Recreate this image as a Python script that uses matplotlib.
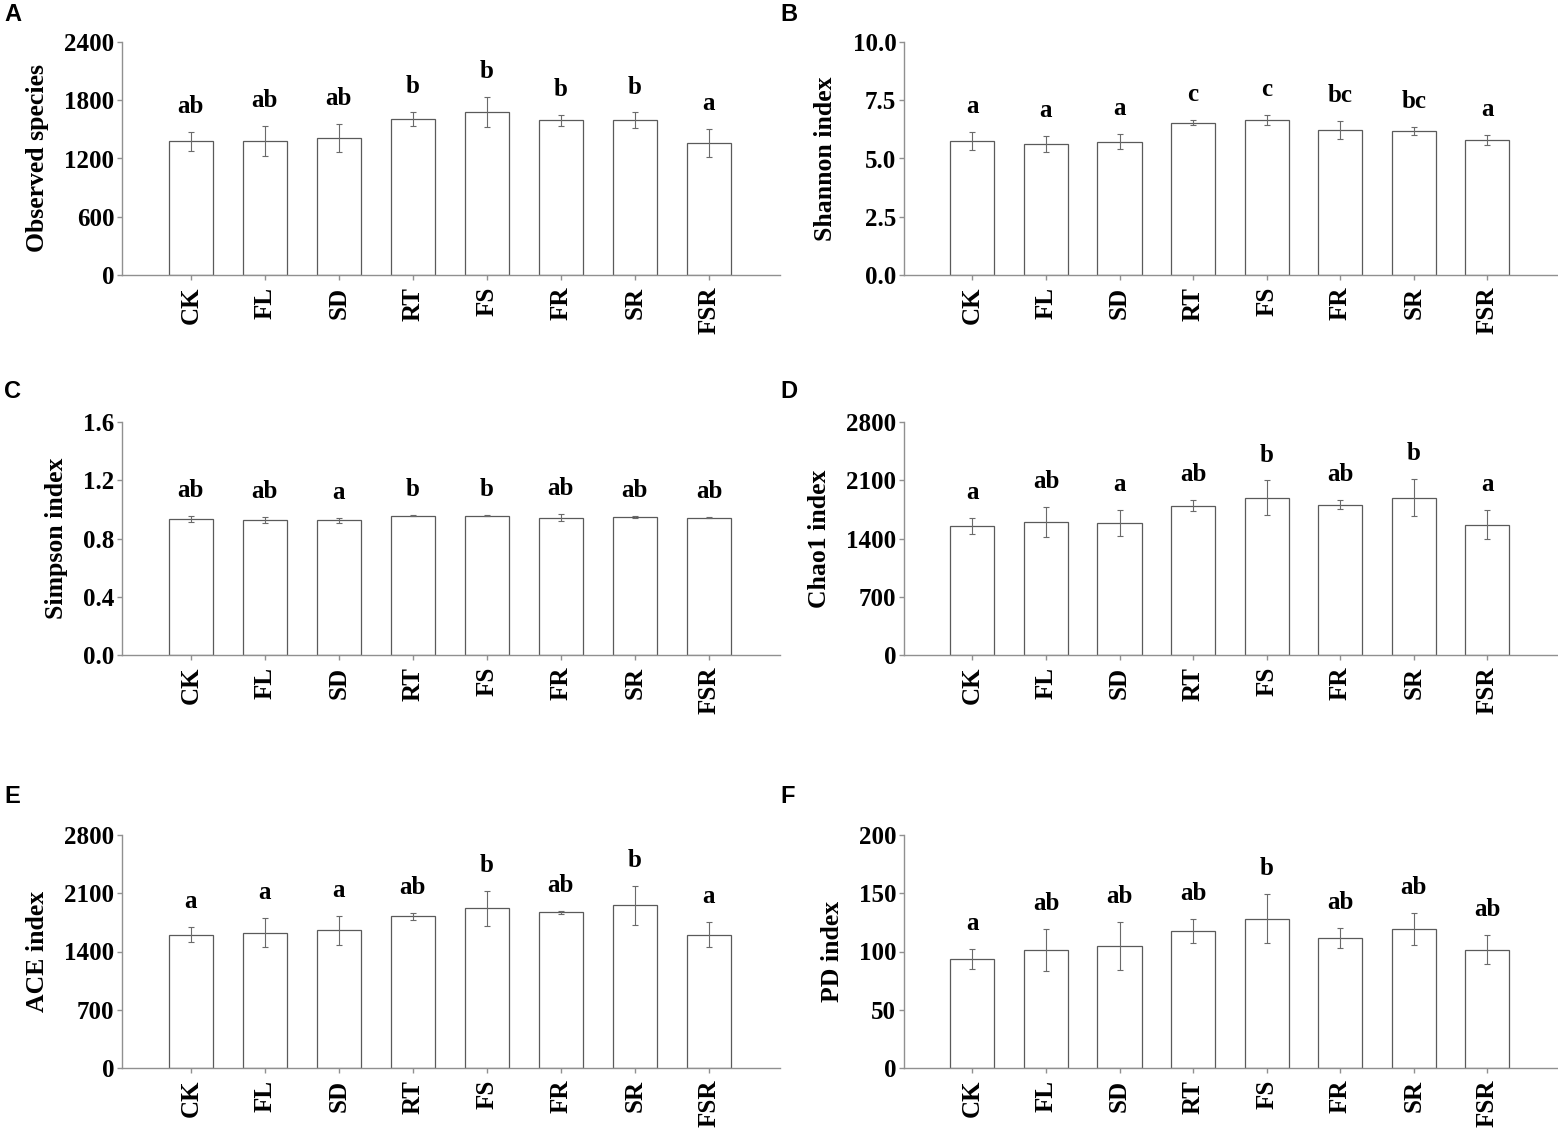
#!/usr/bin/env python3

import numpy as np
import matplotlib
matplotlib.use('Agg')
import matplotlib.pyplot as plt

# treatments
groups = ['CK', 'FL', 'SD', 'RT', 'FS', 'FR', 'SR', 'FSR']

# A - observed species
obs_mean = [1378, 1382, 1413, 1608, 1681, 1595, 1595, 1361]
obs_err = [98, 155, 146, 69, 156, 58, 79, 141]
obs_sig = ['ab', 'ab', 'ab', 'b', 'b', 'b', 'b', 'a']

# B - shannon
shan_mean = [5.76, 5.63, 5.72, 6.53, 6.66, 6.23, 6.19, 5.79]
shan_err = [0.39, 0.34, 0.32, 0.11, 0.21, 0.39, 0.16, 0.20]
shan_sig = ['a', 'a', 'a', 'c', 'c', 'bc', 'bc', 'a']

# C - simpson
simp_mean = [0.934, 0.927, 0.925, 0.957, 0.957, 0.943, 0.950, 0.943]
simp_err = [0.023, 0.018, 0.018, 0.002, 0.004, 0.024, 0.006, 0.003]
simp_sig = ['ab', 'ab', 'a', 'b', 'b', 'ab', 'ab', 'ab']

# D - chao1
chao_mean = [1554, 1602, 1590, 1795, 1891, 1807, 1891, 1566]
chao_err = [96, 180, 156, 62, 206, 58, 224, 172]
chao_sig = ['a', 'ab', 'a', 'ab', 'b', 'ab', 'b', 'a']

# E - ACE
ace_mean = [1604, 1628, 1653, 1821, 1921, 1869, 1953, 1604]
ace_err = [90, 174, 172, 46, 210, 18, 229, 155]
ace_sig = ['a', 'a', 'a', 'ab', 'b', 'ab', 'b', 'a']

# F - PD
pd_mean = [93.6, 101.3, 104.7, 117.6, 128.0, 111.6, 119.3, 101.6]
pd_err = [8.2, 18.0, 20.5, 10.3, 21.0, 8.3, 13.6, 12.4]
pd_sig = ['a', 'ab', 'ab', 'ab', 'b', 'ab', 'ab', 'ab']

W, H = 1558, 1129
SERIF = 'Liberation Serif'


def rect(x0, x1, top, bottom):
    return [x0 / W, 1 - bottom / H, (x1 - x0) / W, (bottom - top) / H]


def bar_panel(ax, mean, err, sig, ymax, step, ylabel, fmt):
    x = np.arange(len(groups))
    ax.bar(x, mean, width=0.6, color='white', edgecolor='#5a5a5a', linewidth=0.9, zorder=2)
    ax.errorbar(x, mean, yerr=err, fmt='none', ecolor='#6a6a6a', elinewidth=0.8,
                capsize=2.5, capthick=0.8, zorder=3)
    for xi, m, e, s in zip(x, mean, err, sig):
        ax.text(xi, m + e + 0.06 * ymax, s, ha='center', va='bottom',
                fontsize=18, fontweight='bold', family=SERIF)

    ax.set_xlim(-0.93, 7.96)
    ax.set_ylim(0, ymax)
    ticks = np.arange(0, ymax + step / 2, step)
    ax.set_yticks(ticks)
    ax.set_yticklabels([fmt.format(t) for t in ticks], fontsize=18, fontweight='bold', family=SERIF)
    ax.set_xticks(x)
    ax.set_xticklabels(groups, rotation=90, fontsize=18, fontweight='bold', family=SERIF)
    ax.set_ylabel(ylabel, fontsize=18.5, fontweight='bold', family=SERIF, labelpad=11)

    for side in ['top', 'right']:
        ax.spines[side].set_visible(False)
    for side in ['left', 'bottom']:
        ax.spines[side].set_color('#909090')
        ax.spines[side].set_linewidth(1.0)
    ax.tick_params(axis='both', color='#909090', length=3.5, width=1.0, pad=2)
    ax.tick_params(axis='x', pad=5)


fig = plt.figure(figsize=(W / 100, H / 100), dpi=100)

panels = [
    ('A', rect(122, 780, 42, 275), obs_mean, obs_err, obs_sig, 2400, 600, 'Observed species', '{:.0f}'),
    ('B', rect(904, 1558, 42, 275), shan_mean, shan_err, shan_sig, 10.0, 2.5, 'Shannon index', '{:.1f}'),
    ('C', rect(122, 780, 422, 655), simp_mean, simp_err, simp_sig, 1.6, 0.4, 'Simpson index', '{:.1f}'),
    ('D', rect(904, 1558, 422, 655), chao_mean, chao_err, chao_sig, 2800, 700, 'Chao1 index', '{:.0f}'),
    ('E', rect(122, 780, 835, 1068), ace_mean, ace_err, ace_sig, 2800, 700, 'ACE index', '{:.0f}'),
    ('F', rect(904, 1558, 835, 1068), pd_mean, pd_err, pd_sig, 200, 50, 'PD index', '{:.0f}'),
]

letter_pos = {'A': (4, 3), 'B': (780, 3), 'C': (4, 380), 'D': (780, 380), 'E': (4, 785), 'F': (780, 785)}

for tag, r, mean, err, sig, ymax, step, ylabel, fmt in panels:
    ax = fig.add_axes(r)
    bar_panel(ax, mean, err, sig, ymax, step, ylabel, fmt)
    px, py = letter_pos[tag]
    fig.text(px / W, 1 - py / H, tag, ha='left', va='top', fontsize=17,
             fontweight='bold', family='Liberation Sans')

plt.savefig('out.png', dpi=100)
